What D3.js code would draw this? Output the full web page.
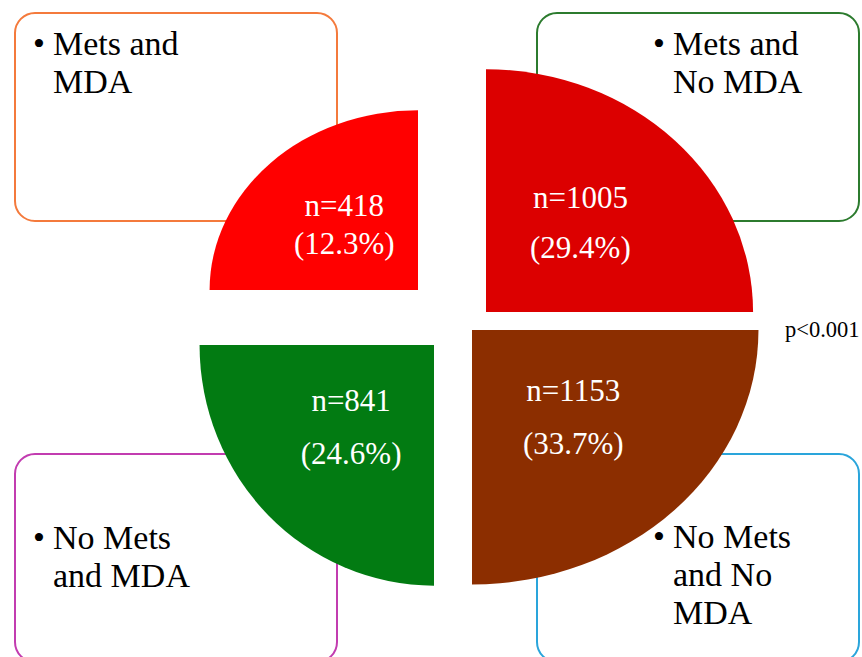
<!DOCTYPE html>
<html>
<head>
<meta charset="utf-8">
<script src="https://cdn.jsdelivr.net/npm/d3@7"></script>
<style>
  body { margin: 0; background: #fff; }
  svg { display: block; }
</style>
</head>
<body>
<script>
// groups in reading order: top-left, top-right, bottom-left, bottom-right
const groups = ["Mets and MDA", "Mets and No MDA", "No Mets and MDA", "No Mets and No MDA"];
const groupLines = [["Mets and", "MDA"], ["Mets and", "No MDA"], ["No Mets", "and MDA"], ["No Mets", "and No", "MDA"]];
const counts = [418, 1005, 841, 1153];
const percents = [12.3, 29.4, 24.6, 33.7];
const pValue = "p<0.001";

const fills = ["#ff0000", "#dc0000", "#027b12", "#8c2e00"];
const boxStrokes = ["#f47a3c", "#2c7b2e", "#c23cb0", "#2aa5db"];

// quadrant layout: corner point of each slice, its x/y stretch, label line offsets
const quad = [
  { cx: 418, cy: 290, a0: 1.5 * Math.PI, stretch: 1.077, lab: [-10, 28] },
  { cx: 486, cy: 312, a0: 0,             stretch: 1.049, lab: [-18, 32] },
  { cx: 434, cy: 345, a0: Math.PI,       stretch: 0.987, lab: [-19, 34] },
  { cx: 472, cy: 330, a0: 0.5 * Math.PI, stretch: 1.061, lab: [-19, 34] }
];
const boxes = [
  { x: 15,  y: 13,  tx: 18,  ty: 42 },
  { x: 537, y: 13,  tx: 116, ty: 42 },
  { x: 15,  y: 454, tx: 18,  ty: 95 },
  { x: 537, y: 454, tx: 116, ty: 94 }
];

const width = 862, height = 657;
const serif = "'Liberation Serif', 'Times New Roman', serif";

const svg = d3.select("body").append("svg")
  .attr("width", width)
  .attr("height", height);

svg.append("rect").attr("width", width).attr("height", height).attr("fill", "#fff");

const r = d3.scaleLinear()
  .domain([d3.min(counts), d3.max(counts)])
  .range([193.5, 270]);

// legend boxes behind the slices
const box = svg.selectAll(".box")
  .data(groups)
  .enter()
  .append("g")
  .attr("class", "box")
  .attr("transform", (d, i) => `translate(${boxes[i].x},${boxes[i].y})`);

box.append("rect")
  .attr("width", 322)
  .attr("height", 208)
  .attr("rx", 20)
  .attr("fill", "#fff")
  .attr("stroke", (d, i) => boxStrokes[i])
  .attr("stroke-width", 2);

box.append("text")
  .attr("x", (d, i) => boxes[i].tx)
  .attr("y", (d, i) => boxes[i].ty)
  .attr("font-family", serif)
  .attr("font-size", 34)
  .attr("fill", "#000")
  .text("\u2022");

box.each(function (d, i) {
  const t = d3.select(this).append("text")
    .attr("font-family", serif)
    .attr("font-size", 34)
    .attr("fill", "#000");
  t.selectAll("tspan")
    .data(groupLines[i])
    .enter()
    .append("tspan")
    .attr("x", boxes[i].tx + 20)
    .attr("y", (s, j) => boxes[i].ty + j * 38)
    .text(s => s);
});

// quarter slices
const arc = d3.arc().innerRadius(0);

const slice = svg.selectAll(".slice")
  .data(counts)
  .enter()
  .append("g")
  .attr("class", "slice")
  .attr("transform", (d, i) => `translate(${quad[i].cx},${quad[i].cy})`);

slice.append("path")
  .attr("transform", (d, i) => `scale(${quad[i].stretch},${1 / quad[i].stretch})`)
  .attr("fill", (d, i) => fills[i])
  .attr("d", (d, i) => arc({ outerRadius: r(d), startAngle: quad[i].a0, endAngle: quad[i].a0 + Math.PI / 2 }));

slice.each(function (d, i) {
  const c = arc.centroid({ outerRadius: r(d), startAngle: quad[i].a0, endAngle: quad[i].a0 + Math.PI / 2 });
  const x = c[0] * quad[i].stretch;
  const y = c[1] / quad[i].stretch;
  const lines = [`n=${d}`, `(${percents[i]}%)`];
  d3.select(this).selectAll("text")
    .data(lines)
    .enter()
    .append("text")
    .attr("x", x)
    .attr("y", (s, j) => y + quad[i].lab[j])
    .attr("text-anchor", "middle")
    .attr("font-family", serif)
    .attr("font-size", 31)
    .attr("fill", "#fff")
    .text(s => s);
});

svg.append("text")
  .attr("x", 785)
  .attr("y", 337)
  .attr("font-family", serif)
  .attr("font-size", 22.5)
  .attr("fill", "#000")
  .text(pValue);
</script>
</body>
</html>
